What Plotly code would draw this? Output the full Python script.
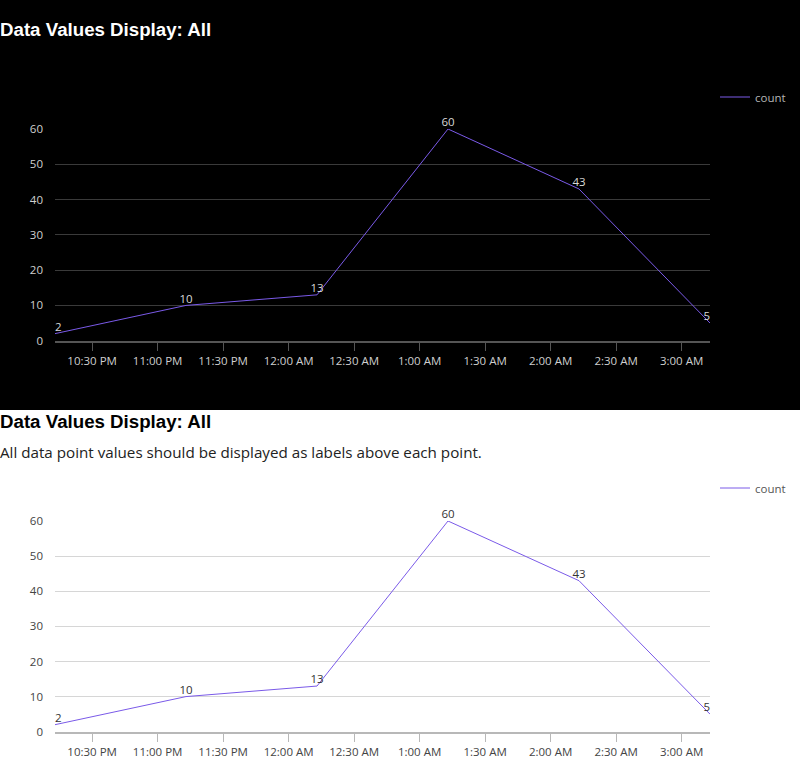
import plotly.graph_objects as go

# ---- data ----
times = ["2024-01-01 22:13", "2024-01-01 23:13", "2024-01-02 00:13",
         "2024-01-02 01:13", "2024-01-02 02:13", "2024-01-02 03:13"]
counts = [2, 10, 13, 60, 43, 5]
labels = [str(v) for v in counts]
series_name = "count"
title_text = "Data Values Display: All"
subtitle_text = "All data point values should be displayed as labels above each point."
y_ticks = [0, 10, 20, 30, 40, 50, 60]

W, H = 800, 783
LINE = "#7a5ae8"
FONT = "'Open Sans', Lato, sans-serif"
TITLE_FONT = "'Liberation Sans', Arial, sans-serif"


def fy(py):
    return 1 - py / H


text_pos = ["top right"] + ["top center"] * (len(counts) - 2) + ["top left"]

fig = go.Figure()

panels = [
    dict(xa="x", ya="y", legend="legend", dark=True),
    dict(xa="x2", ya="y2", legend="legend2", dark=False),
]

for p in panels:
    txt_col = "#d9d9d9" if p["dark"] else "#333333"
    fig.add_trace(go.Scatter(
        x=times, y=counts, mode="lines+text", name=series_name,
        text=labels, textposition=text_pos,
        textfont=dict(family=FONT, size=11.5, color=txt_col),
        line=dict(color=LINE, width=1),
        cliponaxis=False,
        xaxis=p["xa"], yaxis=p["ya"], legend=p["legend"],
        hoverinfo="x+y",
    ))

axis_common_x = dict(
    type="date", range=[times[0], times[-1]],
    tick0="2024-01-01 22:30", dtick=30 * 60 * 1000,
    tickformat="%-I:%M %p", ticks="outside", ticklen=8, tickwidth=1,
    showgrid=False, zeroline=False, showline=True, linewidth=2,
    automargin=False,
)
axis_common_y = dict(
    range=[0, 60], tickvals=y_ticks, showgrid=True, gridwidth=1,
    zeroline=False, showline=False, ticks="", ticklabelstandoff=11,
    automargin=False,
)

x_dom = [55 / W, 710 / W]
TICK_SIZE = 11.5

fig.update_layout(
    width=W, height=H,
    margin=dict(l=0, r=0, t=0, b=0),
    paper_bgcolor="white",
    plot_bgcolor="rgba(0,0,0,0)",
    xaxis=dict(axis_common_x, domain=x_dom, anchor="y",
               linecolor="#555555", tickcolor="#555555",
               tickfont=dict(family=FONT, size=TICK_SIZE, color="#cfcfcf")),
    yaxis=dict(axis_common_y, domain=[fy(340.7), fy(129)], anchor="x",
               gridcolor="#3a3a3a",
               tickfont=dict(family=FONT, size=TICK_SIZE, color="#cfcfcf")),
    xaxis2=dict(axis_common_x, domain=x_dom, anchor="y2",
                linecolor="#b8b8b8", tickcolor="#b8b8b8",
                tickfont=dict(family=FONT, size=TICK_SIZE, color="#444444")),
    yaxis2=dict(axis_common_y, domain=[fy(731.7), fy(521)], anchor="x2",
                gridcolor="#d6d6d6",
                tickfont=dict(family=FONT, size=TICK_SIZE, color="#444444")),
    legend=dict(x=715 / W, y=fy(97), xanchor="left", yanchor="middle",
                bgcolor="rgba(0,0,0,0)",
                font=dict(family=FONT, size=11.5, color="#b5b5b5")),
    legend2=dict(x=715 / W, y=fy(488), xanchor="left", yanchor="middle",
                 bgcolor="rgba(0,0,0,0)",
                 font=dict(family=FONT, size=11.5, color="#555555")),
    showlegend=True,
    shapes=[dict(type="rect", xref="paper", yref="paper",
                 x0=0, x1=1, y0=fy(410), y1=1,
                 fillcolor="black", line=dict(width=0), layer="below")],
    annotations=[
        dict(text="<b>" + title_text + "</b>", xref="paper", yref="paper",
             x=0, y=fy(29.5), xanchor="left", yanchor="middle", showarrow=False,
             xshift=-2,
             font=dict(family=TITLE_FONT, size=18.7, color="white")),
        dict(text="<b>" + title_text + "</b>", xref="paper", yref="paper",
             x=0, y=fy(421.3), xanchor="left", yanchor="middle", showarrow=False,
             xshift=-2,
             font=dict(family=TITLE_FONT, size=18.7, color="black")),
        dict(text=subtitle_text, xref="paper", yref="paper",
             x=0, y=fy(451.5), xanchor="left", yanchor="middle", showarrow=False,
             xshift=-2,
             font=dict(family=FONT, size=15.2, color="#222222")),
    ],
)

fig.write_html("out.html",
               config={"displayModeBar": False},
               post_script="document.body.style.margin='0';")
